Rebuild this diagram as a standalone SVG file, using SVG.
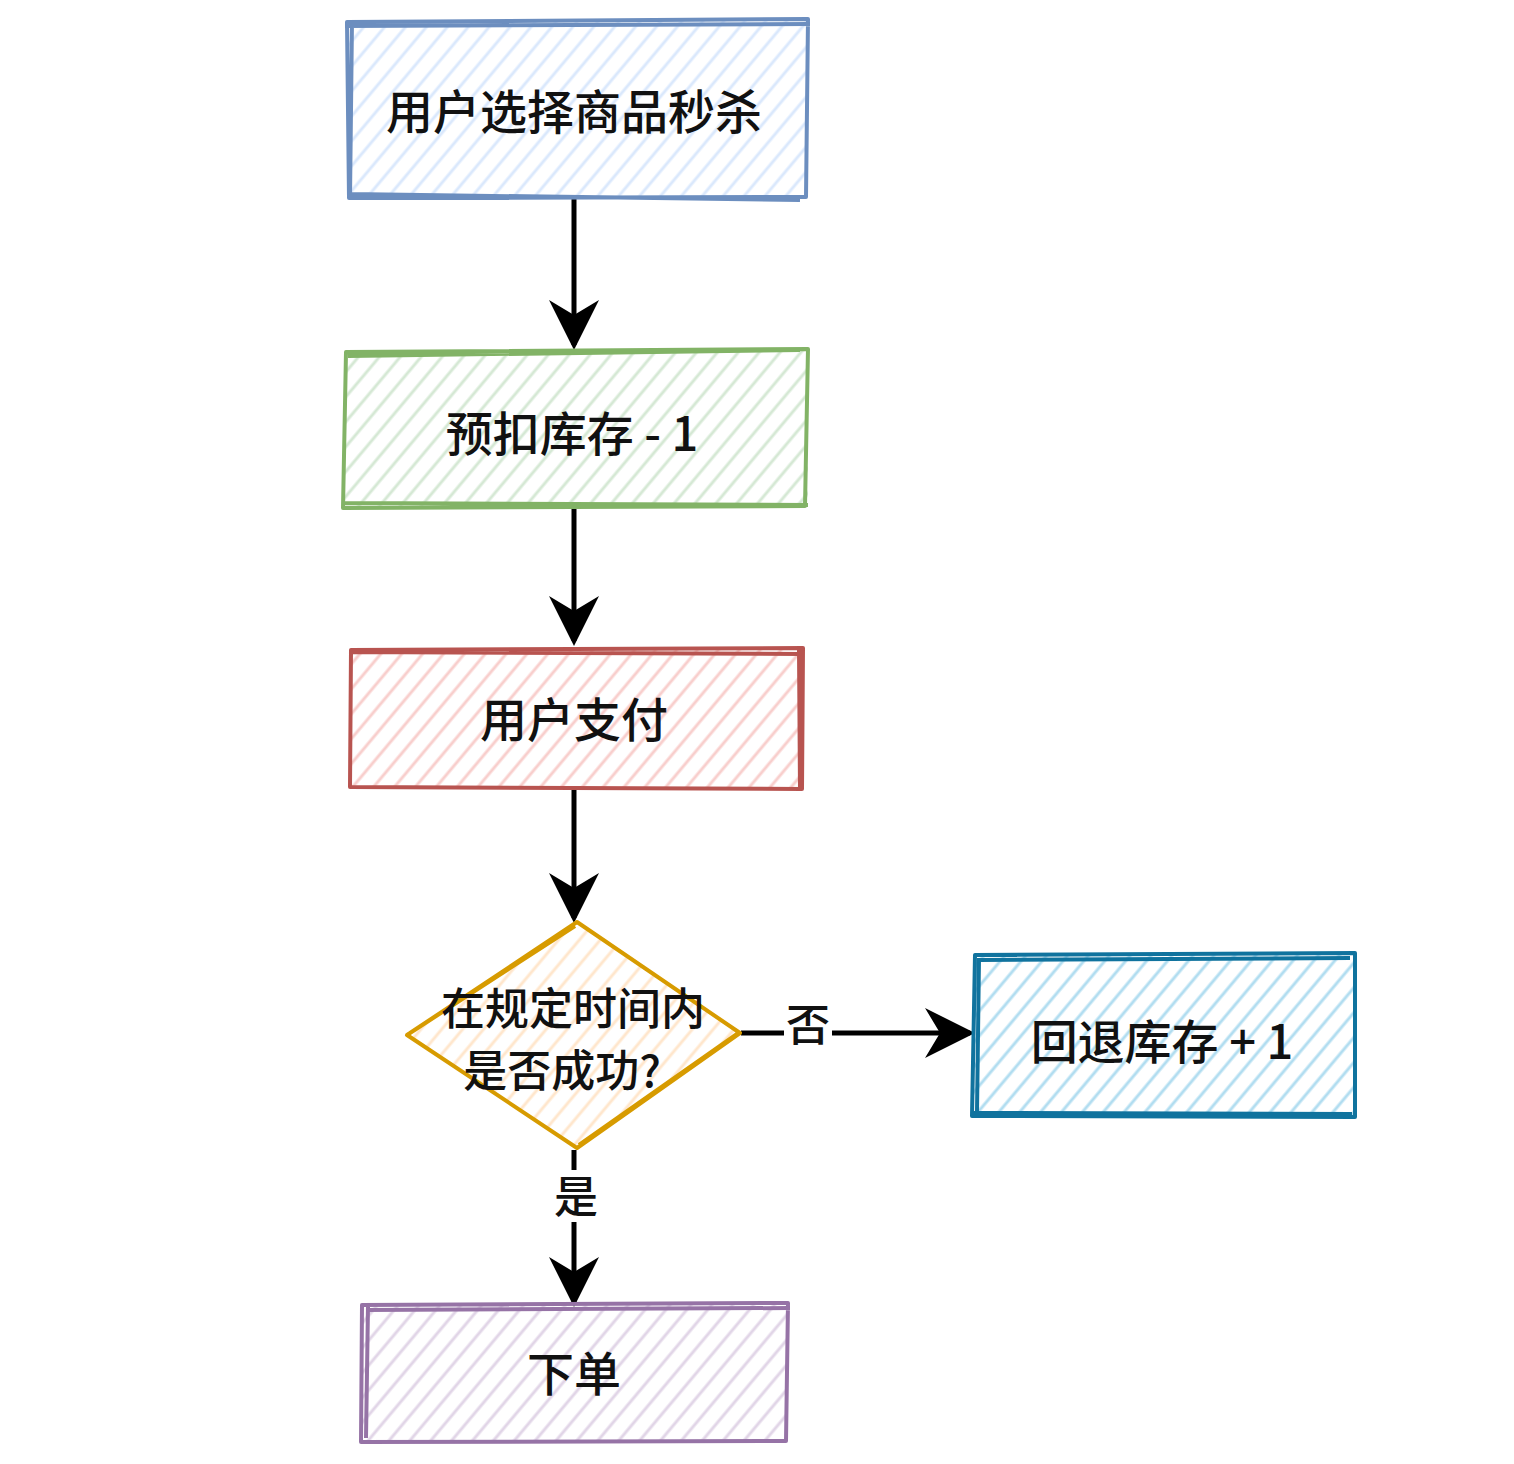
<svg xmlns="http://www.w3.org/2000/svg" width="1514" height="1464" viewBox="0 0 1514 1464">
<style>
.t{font-family:"Noto Sans CJK SC","Noto Sans",sans-serif;font-size:47px;font-weight:500;fill:#111;text-anchor:middle;dominant-baseline:central}
.s{font-size:44px}
.c{stroke:#000;stroke-width:5;fill:none}
.b{stroke-width:4;fill:none;stroke-linejoin:round}
</style>
<defs>
<pattern id="hb" width="16" height="16" patternUnits="userSpaceOnUse" patternTransform="rotate(-50)"><line x1="0" y1="8" x2="16" y2="8" stroke="#dae8fc" stroke-width="3"/></pattern>
<pattern id="hg" width="16" height="16" patternUnits="userSpaceOnUse" patternTransform="rotate(-50)"><line x1="0" y1="8" x2="16" y2="8" stroke="#d5e8d4" stroke-width="3"/></pattern>
<pattern id="hr" width="16" height="16" patternUnits="userSpaceOnUse" patternTransform="rotate(-50)"><line x1="0" y1="8" x2="16" y2="8" stroke="#f8cecc" stroke-width="3"/></pattern>
<pattern id="ho" width="16" height="16" patternUnits="userSpaceOnUse" patternTransform="rotate(-50)"><line x1="0" y1="8" x2="16" y2="8" stroke="#ffe6cc" stroke-width="3"/></pattern>
<pattern id="hc" width="16" height="16" patternUnits="userSpaceOnUse" patternTransform="rotate(-50)"><line x1="0" y1="8" x2="16" y2="8" stroke="#b1ddf0" stroke-width="3"/></pattern>
<pattern id="hp" width="16" height="16" patternUnits="userSpaceOnUse" patternTransform="rotate(-50)"><line x1="0" y1="8" x2="16" y2="8" stroke="#e1d5e7" stroke-width="3"/></pattern>
<marker id="ah" viewBox="0 0 10 10" refX="9" refY="5" markerWidth="10" markerHeight="10" markerUnits="strokeWidth" orient="auto"><path d="M0,0 L10,5 L0,10 L3,5 Z" fill="#000"/></marker>
</defs>
<g id="connectors">
<line class="c" x1="574" y1="199" x2="574" y2="345" marker-end="url(#ah)"/>
<line class="c" x1="574" y1="509" x2="574" y2="641" marker-end="url(#ah)"/>
<line class="c" x1="574" y1="790" x2="574" y2="918" marker-end="url(#ah)"/>
<line class="c" x1="574" y1="1150" x2="574" y2="1170"/>
<line class="c" x1="574" y1="1222" x2="574" y2="1302" marker-end="url(#ah)"/>
<line class="c" x1="741" y1="1033" x2="784" y2="1033"/>
<line class="c" x1="832" y1="1033" x2="970" y2="1033" marker-end="url(#ah)"/>
<text class="t s" x="576" y="1194">是</text>
<text class="t s" x="808" y="1022">否</text>
</g>
<g id="n1">
<rect x="347" y="20" width="461" height="177" fill="url(#hb)"/>
<path class="b" stroke="#6c8ebf" d="M347,22 L808,19 L806,197 L349,198 Z M345,26 L810,24 M350,194 L800,200 M352,20 L350,198"/>
<text class="t" x="574" y="108">用户选择商品秒杀</text>
</g>
<g id="n2">
<rect x="345" y="350" width="463" height="157" fill="url(#hg)"/>
<path class="b" stroke="#82b366" d="M346,352 L808,349 L805,506 L343,508 Z M348,356 L800,350 M344,503 L808,505"/>
<text class="t" x="572" y="430">预扣库存 - 1</text>
</g>
<g id="n3">
<rect x="350" y="648" width="453" height="140" fill="url(#hr)"/>
<path class="b" stroke="#b85450" d="M351,650 L803,648 L802,789 L350,787 Z M350,652 L802,654 M799,650 L800,790"/>
<text class="t" x="574" y="716">用户支付</text>
</g>
<g id="n4">
<path d="M577,922 L740,1033 L577,1148 L407,1035 Z" fill="url(#ho)"/>
<path class="b" stroke="#d79b00" d="M577,922 L740,1033 L577,1148 L407,1035 Z M575,926 L410,1033 M579,1145 L737,1034"/>
<text class="t s" x="573" y="1006">在规定时间内</text>
<text class="t s" x="562" y="1068">是否成功?</text>
</g>
<g id="n5">
<rect x="973" y="953" width="382" height="164" fill="url(#hc)"/>
<path class="b" stroke="#10739e" d="M975,955 L1355,953 L1355,1117 L972,1116 Z M978,960 L1350,958 M971,1113 L1352,1114 M979,958 L977,1112"/>
<text class="t" x="1162" y="1038">回退库存 + 1</text>
</g>
<g id="n6">
<rect x="360" y="1303" width="428" height="139" fill="url(#hp)"/>
<path class="b" stroke="#9673a6" d="M362,1305 L788,1303 L786,1441 L361,1442 Z M366,1310 L790,1308 M368,1306 L366,1438"/>
<text class="t" x="574" y="1370">下单</text>
</g>
</svg>
